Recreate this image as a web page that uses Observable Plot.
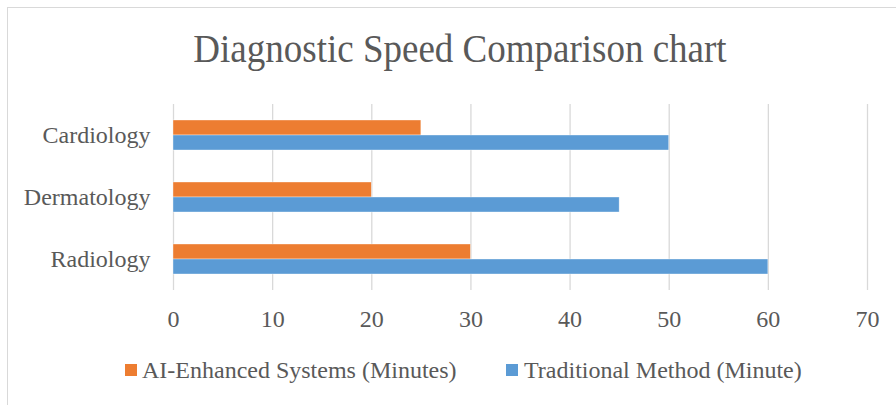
<!DOCTYPE html>
<html>
<head>
<meta charset="utf-8">
<script src="https://cdn.jsdelivr.net/npm/d3@7"></script>
<script src="https://cdn.jsdelivr.net/npm/@observablehq/plot@0.6"></script>
<style>
  html, body { margin: 0; padding: 0; background: #fff; }
  #wrap { position: relative; width: 896px; height: 405px; overflow: hidden; font-family: "Liberation Serif", "Times New Roman", serif; color: #595959; }
  #frame { position: absolute; left: 7px; top: 7px; width: 1000px; height: 1000px; border: 1px solid #d9d9d9; box-sizing: border-box; }
  #title { position: absolute; left: 0; width: 920px; top: 25px; text-align: center; font-size: 37px; line-height: 50px; white-space: nowrap; transform: scaleY(1.06); transform-origin: 50% 70%; }
  #chart { position: absolute; left: 0; top: 80px; }
  #legend { position: absolute; top: 356px; left: 0; width: 896px; height: 28px; font-size: 24px; line-height: 28px; }
  .item { position: absolute; top: 0; white-space: nowrap; }
  .sw { position: absolute; top: 8px; width: 12px; height: 12px; }
</style>
</head>
<body>
<div id="wrap">
  <div id="frame"></div>
  <div id="title">Diagnostic Speed Comparison chart</div>
  <div id="chart"></div>
  <div id="legend"></div>
</div>
<script>
const categories = ["Cardiology", "Dermatology", "Radiology"];
const seriesNames = ["AI-Enhanced Systems (Minutes)", "Traditional Method (Minute)"];
const aiValues = [25, 20, 30];
const traditionalValues = [50, 45, 60];
const xTicks = [0, 10, 20, 30, 40, 50, 60, 70];
const seriesColors = ["#ED7D31", "#5B9BD5"];

const data = [];
categories.forEach((c, i) => {
  data.push({category: c, series: seriesNames[0], value: aiValues[i]});
  data.push({category: c, series: seriesNames[1], value: traditionalValues[i]});
});

const chart = Plot.plot({
  width: 896,
  height: 260,
  marginTop: 23,
  marginBottom: 50,
  marginLeft: 173,
  marginRight: 29,
  style: { fontFamily: "'Liberation Serif', 'Times New Roman', serif", fontSize: "24px", color: "#595959", background: "transparent", overflow: "visible" },
  x: { domain: [0, 70], ticks: xTicks },
  y: { domain: seriesNames, paddingInner: 0, paddingOuter: 0.95, axis: null },
  fy: { domain: categories, padding: 0 },
  color: { domain: seriesNames, range: seriesColors },
  marks: [
    Plot.gridX(xTicks, { stroke: "#d9d9d9", strokeOpacity: 1, strokeWidth: 1.3 }),
    Plot.barX(data, { x: "value", y: "series", fy: "category", fill: "series", stroke: "#ffffff", strokeWidth: 0.6, strokeOpacity: 0.6 }),
    Plot.axisX(xTicks, { tickSize: 0, tickPadding: 19, label: null }),
    Plot.axisFy({ anchor: "left", tickSize: 0, tickPadding: 23, label: null })
  ]
});
document.getElementById("chart").appendChild(chart);

const legend = document.getElementById("legend");
const legendPos = [[125, 142], [506, 524]];
seriesNames.forEach((name, i) => {
  const sw = document.createElement("div");
  sw.className = "sw";
  sw.style.left = legendPos[i][0] + "px";
  sw.style.background = seriesColors[i];
  legend.appendChild(sw);
  const t = document.createElement("div");
  t.className = "item";
  t.style.left = legendPos[i][1] + "px";
  t.textContent = name;
  legend.appendChild(t);
});
</script>
</body>
</html>
